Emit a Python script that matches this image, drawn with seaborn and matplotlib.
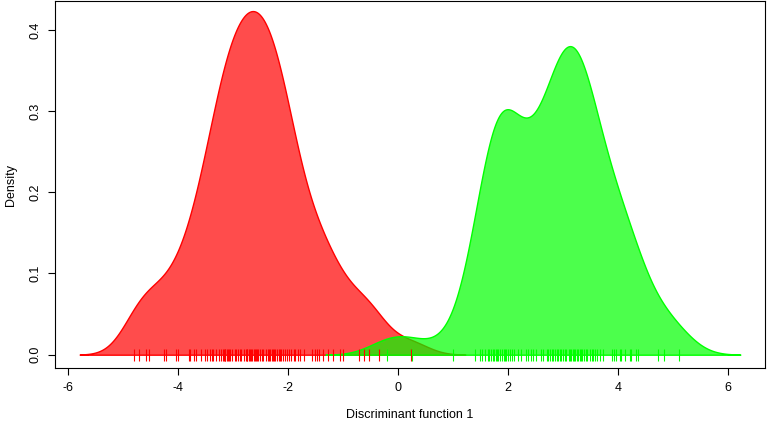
import numpy as np
import matplotlib
matplotlib.use("Agg")
import matplotlib.pyplot as plt
import seaborn as sns

# discriminant scores read off the rug marks (dense parts of the rug hold
# overlapping marks, so some values appear twice)
group1_scores = [
    -4.80, -4.71, -4.58, -4.53, -4.25, -4.22, -4.04, -4.00, -3.80, -3.78,
    -3.71, -3.67, -3.58, -3.52, -3.48, -3.42, -3.39, -3.36, -3.32, -3.26,
    -3.22, -3.19, -3.16, -3.15, -3.14, -3.11, -3.09, -3.07, -3.05, -3.02,
    -2.97, -2.95, -2.91, -2.88, -2.85, -2.81, -2.77, -2.75, -2.74, -2.71,
    -2.70, -2.67, -2.65, -2.62, -2.60, -2.59, -2.56, -2.55, -2.52, -2.48,
    -2.45, -2.41, -2.37, -2.35, -2.33, -2.30, -2.27, -2.25, -2.24,
    -2.21, -2.17, -2.15, -2.13, -2.09, -2.06, -2.03, -1.99, -1.94, -1.90,
    -1.87, -1.83, -1.79, -1.71, -1.57, -1.51, -1.47, -1.44, -1.36, -1.27,
    -1.18, -1.05, -1.00, -0.71, -0.62, -0.53, -0.35, 0.23,
]
group2_scores = [
    -0.21, 0.25, 1.00, 1.40, 1.49, 1.52, 1.58, 1.63, 1.65, 1.69,
    1.73, 1.75, 1.77, 1.80, 1.82, 1.85, 1.89, 1.93,
    1.95, 1.96, 1.99, 2.03, 2.07, 2.11, 2.17, 2.24, 2.33, 2.36,
    2.41, 2.45, 2.50, 2.59, 2.64, 2.70, 2.73, 2.76, 2.79, 2.82,
    2.85, 2.88, 2.91, 2.95, 2.96, 3.00, 3.03, 3.05, 3.10,
    3.12, 3.15, 3.18, 3.20, 3.21, 3.25, 3.27, 3.30, 3.33, 3.35,
    3.38, 3.41, 3.44, 3.49, 3.52, 3.55, 3.58, 3.61, 3.67, 3.73,
    3.88, 3.93, 3.96, 4.03, 4.05, 4.12, 4.21, 4.24, 4.32, 4.36,
    4.73, 4.84, 5.11,
]
group_colors = ["#ff0000", "#00ff00"]
group_bw = [0.33, 0.37]  # kernel sd, matches where the curves fade out

x_ticks = [-6, -4, -2, 0, 2, 4, 6]
y_ticks = [0.0, 0.1, 0.2, 0.3, 0.4]

plt.rcParams["font.family"] = ["Liberation Sans", "DejaVu Sans"]

fig = plt.figure(figsize=(7.67, 4.23), dpi=100)
ax = fig.add_axes([55 / 767, 55 / 423, 710 / 767, 367 / 423])

for scores, col, bw in zip([group1_scores, group2_scores], group_colors, group_bw):
    # seaborn takes the bandwidth as a factor of the sample sd
    factor = bw / np.std(scores, ddof=1)
    sns.kdeplot(x=scores, ax=ax, fill=True, color=col, alpha=0.7,
                bw_method=factor, cut=3, gridsize=512, linewidth=1)

for scores, col in zip([group1_scores, group2_scores], group_colors):
    sns.scatterplot(x=scores, y=np.zeros(len(scores)), ax=ax, marker="|",
                    s=70, linewidth=0.8, color=col, zorder=5)

ax.set_xlim(-6.24, 6.67)
ax.set_ylim(-0.0164, 0.4356)
ax.set_xticks(x_ticks)
ax.set_xticklabels([str(t) for t in x_ticks])
ax.set_yticks(y_ticks)
ax.set_yticklabels([f"{t:.1f}" for t in y_ticks], rotation=90, va="center")
ax.tick_params(direction="out", length=5, width=0.8, labelsize=9, pad=5)
for s in ax.spines.values():
    s.set_linewidth(0.8)
    s.set_color("black")
ax.set_xlabel("Discriminant function 1", fontsize=9, labelpad=11)
ax.set_ylabel("Density", fontsize=9, labelpad=9)

fig.savefig("out.png", dpi=100)
